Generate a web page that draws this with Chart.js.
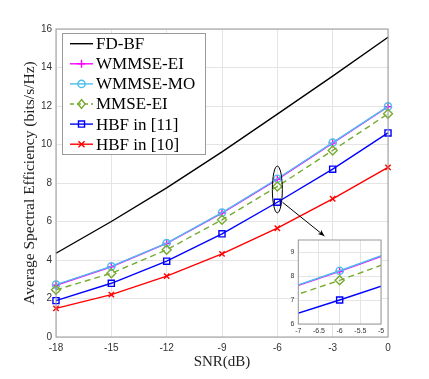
<!DOCTYPE html>
<html>
<head>
<meta charset="utf-8">
<script src="https://cdn.jsdelivr.net/npm/chart.js@4"></script>
<style>
  html, body { margin: 0; padding: 0; background: #fff; }
  #wrap { position: relative; width: 429px; height: 379px; }
  #mainChart { position: absolute; left: 0; top: 0; }
  #insetChart { position: absolute; left: 283px; top: 232px; }
</style>
</head>
<body>
<div id="wrap">
  <canvas id="mainChart" width="429" height="379"></canvas>
  <canvas id="insetChart" width="104" height="104"></canvas>
</div>
<script>
// data
var snr = [-18, -15, -12, -9, -6, -3, 0];
var fdbf = [4.35, 6.0, 7.75, 9.62, 11.58, 13.55, 15.57];
var wmmseEI = [2.69, 3.65, 4.86, 6.44, 8.19, 10.07, 11.96];
var wmmseMO = [2.72, 3.67, 4.88, 6.46, 8.22, 10.1, 11.98];
var mmseEI = [2.45, 3.31, 4.53, 6.09, 7.82, 9.69, 11.6];
var hbf11 = [1.89, 2.79, 3.94, 5.36, 7.0, 8.72, 10.6];
var hbf10 = [1.49, 2.2, 3.16, 4.32, 5.65, 7.18, 8.81];

var xTicks = [-18, -15, -12, -9, -6, -3, 0];
var yTicks = [0, 2, 4, 6, 8, 10, 12, 14, 16];
var xTicksInset = [-7, -6.5, -6, -5.5, -5];
var yTicksInset = [6, 7, 8, 9];

var serif = 'Liberation Serif';
var sans = 'Liberation Sans';
var gridCol = '#e4e4e4';
var boxCol = '#9a9a9a';
var tickCol = '#333333';

function pts(arr) {
  return snr.map(function (x, i) { return { x: x, y: arr[i] }; });
}

var series = [
  { label: 'FD-BF', data: fdbf, color: '#000000', marker: false, dash: [], inset: false },
  { label: 'WMMSE-EI', data: wmmseEI, color: '#ff00ff', marker: 'cross', dash: [], r: 4, inset: true },
  { label: 'WMMSE-MO', data: wmmseMO, color: '#4dbeee', marker: 'circle', dash: [], r: 3.6, inset: true },
  { label: 'MMSE-EI', data: mmseEI, color: '#77ac30', marker: 'rectRot', dash: [6, 4], r: 4.5, inset: true },
  { label: 'HBF in [11]', data: hbf11, color: '#0000ff', marker: 'rect', dash: [], r: 4.3, inset: true },
  { label: 'HBF in [10]', data: hbf10, color: '#ff0000', marker: 'crossRot', dash: [], r: 3.8, inset: false }
];

function makeDatasets(clip, insetOnly) {
  return series.filter(function (s) { return !insetOnly || s.inset; }).map(function (s, i, all) {
    return {
      label: s.label,
      data: pts(s.data),
      borderColor: s.color,
      borderWidth: 1.4,
      borderDash: s.dash,
      pointStyle: s.marker || 'circle',
      pointRadius: s.marker ? s.r : 0,
      pointHoverRadius: s.marker ? s.r : 0,
      pointBorderColor: s.color,
      pointBackgroundColor: 'rgba(0,0,0,0)',
      pointBorderWidth: 1.4,
      tension: 0,
      fill: false,
      clip: clip,
      order: all.length - i
    };
  });
}

function drawMarker(ctx, style, x, y, r) {
  ctx.beginPath();
  if (style === 'circle') {
    ctx.arc(x, y, r, 0, Math.PI * 2);
  } else if (style === 'cross') {
    ctx.moveTo(x - r, y); ctx.lineTo(x + r, y);
    ctx.moveTo(x, y - r); ctx.lineTo(x, y + r);
  } else if (style === 'crossRot') {
    var d = r * 0.8;
    ctx.moveTo(x - d, y - d); ctx.lineTo(x + d, y + d);
    ctx.moveTo(x - d, y + d); ctx.lineTo(x + d, y - d);
  } else if (style === 'rect') {
    var h = r * Math.SQRT1_2;
    ctx.rect(x - h, y - h, 2 * h, 2 * h);
  } else if (style === 'rectRot') {
    ctx.moveTo(x, y - r); ctx.lineTo(x + r * 0.8, y);
    ctx.lineTo(x, y + r); ctx.lineTo(x - r * 0.8, y);
    ctx.closePath();
  }
  ctx.stroke();
}

var mainDeco = {
  id: 'mainDeco',
  afterDraw: function (chart) {
    var ctx = chart.ctx;
    var a = chart.chartArea;
    var xs = chart.scales.x, ys = chart.scales.y;
    ctx.save();
    // axes box
    ctx.strokeStyle = boxCol;
    ctx.lineWidth = 1;
    ctx.strokeRect(a.left, a.top, a.right - a.left, a.bottom - a.top);

    // ellipse around SNR = -6
    var cx = xs.getPixelForValue(-6);
    var yTop = ys.getPixelForValue(8.88), yBot = ys.getPixelForValue(6.45);
    ctx.strokeStyle = '#000';
    ctx.lineWidth = 1;
    ctx.beginPath();
    ctx.ellipse(cx, (yTop + yBot) / 2, 5, (yBot - yTop) / 2, 0, 0, Math.PI * 2);
    ctx.stroke();

    // arrow to the inset
    var x1 = xs.getPixelForValue(-5.72), y1 = ys.getPixelForValue(7.0);
    var x2 = xs.getPixelForValue(-3.45), y2 = ys.getPixelForValue(5.25);
    ctx.beginPath();
    ctx.moveTo(x1, y1); ctx.lineTo(x2, y2);
    ctx.stroke();
    var ang = Math.atan2(y2 - y1, x2 - x1);
    ctx.fillStyle = '#000';
    ctx.beginPath();
    ctx.moveTo(x2, y2);
    ctx.lineTo(x2 - 7 * Math.cos(ang - 0.4), y2 - 7 * Math.sin(ang - 0.4));
    ctx.lineTo(x2 - 4.5 * Math.cos(ang), y2 - 4.5 * Math.sin(ang));
    ctx.lineTo(x2 - 7 * Math.cos(ang + 0.4), y2 - 7 * Math.sin(ang + 0.4));
    ctx.closePath();
    ctx.fill();

    // legend
    var lx = 62, ly = 33, lw = 143, lh = 121;
    ctx.fillStyle = '#fff';
    ctx.fillRect(lx, ly, lw, lh);
    ctx.strokeStyle = boxCol;
    ctx.strokeRect(lx + 0.5, ly + 0.5, lw, lh);
    ctx.font = '17px "' + serif + '"';
    ctx.textBaseline = 'middle';
    series.forEach(function (s, i) {
      var yy = 43.7 + i * 20.1;
      ctx.strokeStyle = s.color;
      ctx.lineWidth = 1.4;
      ctx.setLineDash(s.dash.length ? [4, 3] : []);
      ctx.beginPath();
      ctx.moveTo(70, yy); ctx.lineTo(93, yy);
      ctx.stroke();
      ctx.setLineDash([]);
      if (s.marker) drawMarker(ctx, s.marker, 81.5, yy, s.r);
      ctx.fillStyle = '#000';
      ctx.fillText(s.label, 96, yy + 1);
    });
    ctx.restore();
  }
};

var mainChart = new Chart(document.getElementById('mainChart').getContext('2d'), {
  type: 'line',
  data: { datasets: makeDatasets(false, false) },
  options: {
    responsive: false,
    animation: false,
    events: [],
    layout: { padding: { left: 0, right: 41, top: 29, bottom: 0 } },
    plugins: { legend: { display: false }, tooltip: { enabled: false } },
    scales: {
      x: {
        type: 'linear',
        min: -18, max: 0,
        afterBuildTicks: function (s) { s.ticks = xTicks.map(function (v) { return { value: v }; }); },
        afterFit: function (s) { s.height = 42; s.paddingLeft = 0; s.paddingRight = 0; },
        grid: { color: gridCol, drawTicks: false },
        border: { display: false },
        ticks: { color: tickCol, padding: 5, maxRotation: 0, font: { family: sans, size: 10 } },
        title: {
          display: true, text: 'SNR(dB)', color: '#222',
          font: { family: serif, size: 15 }, padding: { top: 0, bottom: 8 }
        }
      },
      y: {
        type: 'linear',
        min: 0, max: 16,
        afterBuildTicks: function (s) { s.ticks = yTicks.map(function (v) { return { value: v }; }); },
        afterFit: function (s) { s.width = 56; s.paddingTop = 0; s.paddingBottom = 0; },
        grid: { color: gridCol, drawTicks: false },
        border: { display: false },
        ticks: { color: tickCol, padding: 4, font: { family: sans, size: 10 } },
        title: {
          display: true, text: 'Average Spectral Efficiency (bits/s/Hz)', color: '#222',
          font: { family: serif, size: 15.5 }, padding: { top: 21, bottom: 0 }
        }
      }
    }
  },
  plugins: [mainDeco]
});

var insetDeco = {
  id: 'insetDeco',
  beforeDraw: function (chart) {
    var a = chart.chartArea, ctx = chart.ctx;
    ctx.save();
    ctx.fillStyle = '#fff';
    ctx.fillRect(a.left, a.top, a.right - a.left, a.bottom - a.top);
    ctx.restore();
  },
  afterDraw: function (chart) {
    var a = chart.chartArea, ctx = chart.ctx;
    ctx.save();
    ctx.strokeStyle = boxCol;
    ctx.lineWidth = 1;
    ctx.strokeRect(a.left, a.top, a.right - a.left, a.bottom - a.top);
    ctx.restore();
  }
};

var insetChart = new Chart(document.getElementById('insetChart').getContext('2d'), {
  type: 'line',
  data: { datasets: makeDatasets(0, true) },
  options: {
    responsive: false,
    animation: false,
    events: [],
    layout: { padding: { left: 0, right: 6, top: 8, bottom: 0 } },
    plugins: { legend: { display: false }, tooltip: { enabled: false } },
    scales: {
      x: {
        type: 'linear',
        min: -7, max: -5,
        afterBuildTicks: function (s) { s.ticks = xTicksInset.map(function (v) { return { value: v }; }); },
        afterFit: function (s) { s.height = 12; s.paddingLeft = 0; s.paddingRight = 0; },
        grid: { color: gridCol, drawTicks: false },
        border: { display: false },
        ticks: {
          color: tickCol, padding: 3, maxRotation: 0, font: { family: sans, size: 7 },
          callback: function (v) { return String(v); }
        }
      },
      y: {
        type: 'linear',
        min: 6, max: 9.5,
        afterBuildTicks: function (s) { s.ticks = yTicksInset.map(function (v) { return { value: v }; }); },
        afterFit: function (s) { s.width = 15.3; s.paddingTop = 0; s.paddingBottom = 0; },
        grid: { color: gridCol, drawTicks: false },
        border: { display: false },
        ticks: {
          color: tickCol, padding: 4, font: { family: sans, size: 7 },
          callback: function (v) { return String(v); }
        }
      }
    }
  },
  plugins: [insetDeco]
});
</script>
</body>
</html>
